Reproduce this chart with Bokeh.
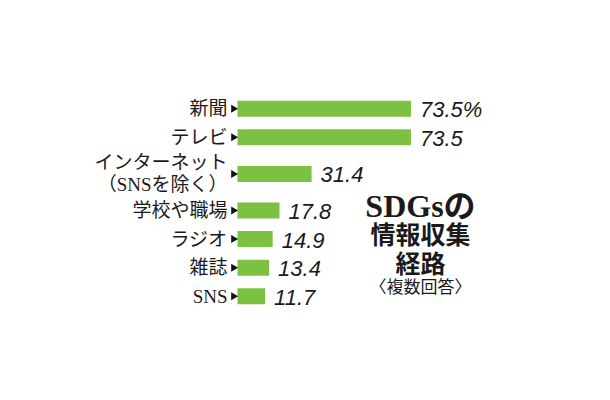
import math
from bokeh.plotting import figure
from bokeh.models import FactorRange, Range1d, ColumnDataSource
from bokeh.core.properties import value
from bokeh.embed import file_html
from bokeh.resources import INLINE

# ---- data ----
categories = ["新聞", "テレビ", "インターネット\n（SNSを除く）", "学校や職場", "ラジオ", "雑誌", "SNS"]
groups = ["a", "a", "b", "c", "c", "c", "c"]
values = [73.5, 73.5, 31.4, 17.8, 14.9, 13.4, 11.7]
value_labels = ["73.5%", "73.5", "31.4", "17.8", "14.9", "13.4", "11.7"]
title_lines = ["SDGsの", "情報収集", "経路", "〈複数回答〉"]

# ---- layout ----
W, H = 594, 384
px_per_unit = 2.36
zero_px = 237
x_range = Range1d(-zero_px / px_per_unit, (W - zero_px) / px_per_unit)

factors = list(zip(groups, categories))
y_range = FactorRange(factors=list(reversed(factors)), group_padding=0.28, range_padding=0)

p = figure(width=W, height=H, x_range=x_range, y_range=y_range,
           output_backend="svg", toolbar_location=None,
           x_axis_type=None, y_axis_type=None,
           min_border_left=0, min_border_right=0,
           min_border_top=94, min_border_bottom=74)
p.outline_line_color = None
p.xgrid.visible = False
p.ygrid.visible = False
p.background_fill_color = "white"
p.border_fill_color = "white"

src = ColumnDataSource(dict(y=factors, v=values, lab=value_labels, cat=categories,
                            zero=[0] * len(values),
                            tri=[-4 / px_per_unit] * len(values)))

p.hbar(y="y", left=0, right="v", height=0.56, source=src,
       fill_color="#7dc142", line_color=None)

p.scatter(x="tri", y="y", source=src, marker="triangle", size=8,
          angle=-math.pi / 2, fill_color="#111111", line_color=None)

cjk_serif = "Liberation Serif, Noto Sans CJK JP"

p.text(x="zero", y="y", text="cat", source=src, x_offset=-10,
       text_align="right", text_baseline="middle",
       text_font=value(cjk_serif), text_font_size="19px",
       text_color="#1a1a1a", text_line_height=1.05)

p.text(x="v", y="y", text="lab", source=src, x_offset=9, y_offset=1,
       text_align="left", text_baseline="middle",
       text_font=value("Liberation Sans"), text_font_style="italic",
       text_font_size="22px", text_color="#1a1a1a")

# title block, anchored to the ラジオ row
tx = (420 - zero_px) / px_per_unit
anchor = factors[4]
title_src = ColumnDataSource(dict(x=[tx], y=[anchor]))
p.text(x="x", y="y", text=value(title_lines[0]), source=title_src, y_offset=-33,
       text_align="center", text_baseline="middle",
       text_font=value(cjk_serif), text_font_style="bold",
       text_font_size="32px", text_color="#1a1a1a")
p.text(x="x", y="y", text=value(title_lines[1]), source=title_src, y_offset=-4,
       text_align="center", text_baseline="middle",
       text_font=value(cjk_serif), text_font_style="bold",
       text_font_size="25px", text_color="#1a1a1a")
p.text(x="x", y="y", text=value(title_lines[2]), source=title_src, y_offset=25,
       text_align="center", text_baseline="middle",
       text_font=value(cjk_serif), text_font_style="bold",
       text_font_size="25px", text_color="#1a1a1a")
p.text(x="x", y="y", text=value(title_lines[3]), source=title_src, y_offset=48,
       text_align="center", text_baseline="middle",
       text_font=value(cjk_serif),
       text_font_size="17px", text_color="#1a1a1a")

open("out.html", "w").write(file_html(p, INLINE))
